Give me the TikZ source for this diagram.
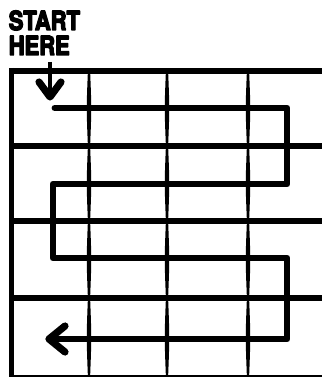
\documentclass[tikz,border=0pt]{standalone}
\usepackage{fontspec}
\setmainfont{TeX Gyre Heros}
\newcommand\heavytext[1]{\special{pdf:literal direct 2 Tr 1.1 w 1 j}#1\special{pdf:literal direct 0 Tr}}
\begin{document}
\begin{tikzpicture}[x=0.75pt,y=-0.75pt,
  gridh/.style={line width=4pt,line cap=butt},
  border/.style={line width=3.2pt},
  route/.style={line width=5.2pt,line join=round,line cap=round},
  head/.style={line width=5.4pt,line join=round,line cap=round},
  label/.style={anchor=base west,inner sep=0pt,font=\bfseries\fontsize{19.6}{20}\selectfont}]
\useasboundingbox (0,0) rectangle (322,377);
% label
\node[label] (start) at (8.5,30) {\scalebox{0.84}[1]{\heavytext{START}}};
\node[label] (here) at (8.5,55) {\scalebox{0.84}[1]{\heavytext{HERE}}};
% grid
\draw[border] (11.5,68) -- (11.5,377);
\foreach \y in {71,146,221,298} \draw[gridh] (10,\y) -- (322,\y);
\draw[line width=1.2pt] (10,376) -- (322,376);
\foreach \x in {89,167,248}{
  \foreach \ya/\yb in {71/146,146/221,221/298,298/377}{
    \fill (\x-1.1,\ya) .. controls (\x-2.6,{(\ya+\yb)/2}) .. (\x-1.1,\yb)
      -- (\x+1.1,\yb) .. controls (\x+2.6,{(\ya+\yb)/2}) .. (\x+1.1,\ya) -- cycle;
  }
}
% route
\coordinate (p0) at (55,108);
\coordinate (p1) at (287,108);
\coordinate (p2) at (287,184);
\coordinate (p3) at (53,184);
\coordinate (p4) at (53,258);
\coordinate (p5) at (287,258);
\coordinate (p6) at (287,339);
\coordinate (p7) at (49,339);
\draw[route] (p0) -- (p1) -- (p2) -- (p3) -- (p4) -- (p5) -- (p6) -- (p7);
\draw[head] (65,326) -- (p7) -- (65,352);
% start arrow
\coordinate (a0) at (50,62);
\coordinate (a1) at (50,97);
\draw[line width=2.8pt] (a0) -- (a1);
\draw[head] (39,82) -- (a1) -- (61,82);
\end{tikzpicture}
\end{document}
